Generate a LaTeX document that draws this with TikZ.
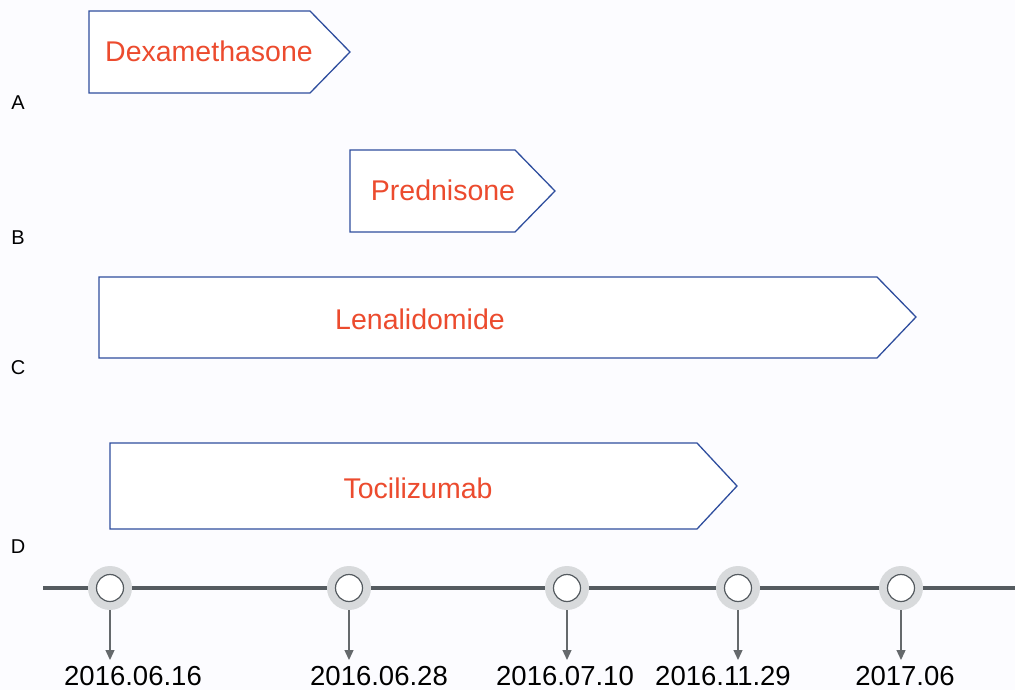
\documentclass[tikz,border=0pt]{standalone}
\usepackage{fontspec}
\setmainfont{Liberation Sans}
\usetikzlibrary{arrows.meta}
\definecolor{drugred}{HTML}{EC4B2E}
\definecolor{boxblue}{HTML}{2F4E9E}
\definecolor{linegray}{HTML}{555B60}
\definecolor{halogray}{HTML}{D8DADC}
\definecolor{arrgray}{HTML}{65696C}
\begin{document}
\begin{tikzpicture}[x=1pt,y=-1pt,
  drugbox/.style={draw=boxblue,line width=1.3pt,fill=white,line join=miter},
  drugtxt/.style={text=drugred,font=\fontsize{28.5}{30}\selectfont,inner sep=0pt},
  rowlbl/.style={font=\fontsize{20}{22}\selectfont,inner sep=0pt},
  halo/.style={circle,fill=halogray,minimum size=44pt,inner sep=0pt},
  dot/.style={circle,draw=linegray,line width=1.2pt,fill=white,minimum size=27pt,inner sep=0pt},
  datelbl/.style={font=\fontsize{27.5}{30}\selectfont,inner sep=0pt},
  datearrow/.style={draw=arrgray,line width=1.3pt,-{Triangle[length=10pt,width=9pt]}}]
\useasboundingbox (0,0) rectangle (1015,690);
\fill[white!97!blue!40] (0,0) rectangle (1015,690);
% drug boxes
\draw[drugbox] (89,11) -- (310,11) -- (350,52) -- (310,93) -- (89,93) -- cycle;
\node[drugtxt] (dex) at (209,51) {Dexamethasone};
\draw[drugbox] (350,150) -- (515,150) -- (555,191) -- (515,232) -- (350,232) -- cycle;
\node[drugtxt] (pred) at (443,190) {Prednisone};
\draw[drugbox] (99,277) -- (877,277) -- (916,317) -- (877,358) -- (99,358) -- cycle;
\node[drugtxt] (len) at (420,319) {Lenalidomide};
\draw[drugbox] (110,443) -- (697,443) -- (737,486) -- (697,529) -- (110,529) -- cycle;
\node[drugtxt] (toc) at (418,488) {Tocilizumab};
% row labels
\node[rowlbl] (A) at (18,103) {A};
\node[rowlbl] (B) at (18,238) {B};
\node[rowlbl] (C) at (18,368) {C};
\node[rowlbl] (D) at (18,547) {D};
% timeline
\coordinate (tl0) at (43,588);
\coordinate (tl1) at (1015,588);
\draw[linegray,line width=4pt] (tl0) -- (tl1);
\foreach \i/\x/\lx/\t in {1/110/133/2016.06.16, 2/349/379/2016.06.28, 3/567/565/2016.07.10, 4/738/723/2016.11.29, 5/901/905/2017.06}{
  \node[halo] (h\i) at (\x,588) {};
  \node[dot] (c\i) at (\x,588) {};
  \coordinate (e\i) at (\x,660);
  \draw[datearrow] (h\i.south) -- (e\i);
  \node[datelbl] (d\i) at (\lx,676) {\t};
}
\end{tikzpicture}
\end{document}
